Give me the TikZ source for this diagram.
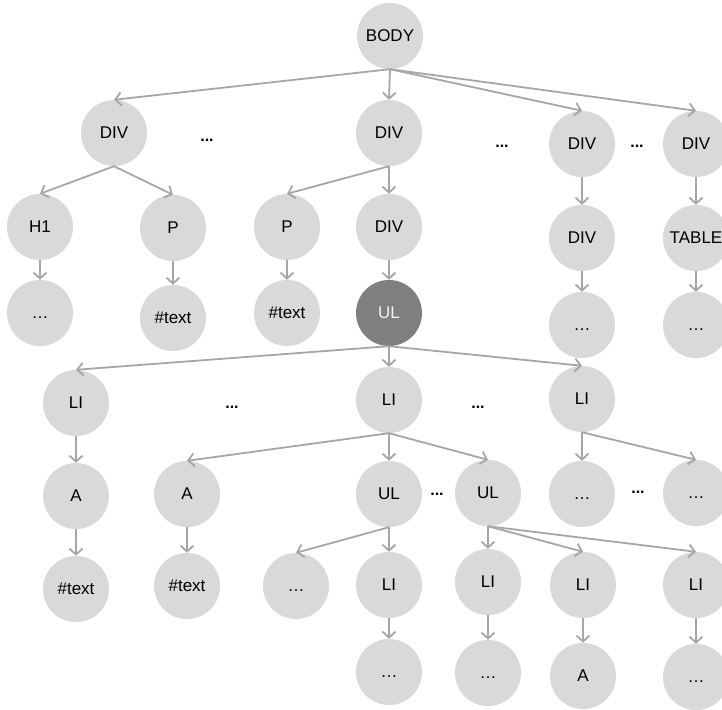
\documentclass[tikz,border=0pt]{standalone}
\usepackage{fontspec}
\setmainfont{Liberation Sans}
\usetikzlibrary{arrows.meta}
\definecolor{nodefill}{RGB}{217,217,217}
\definecolor{darkfill}{RGB}{127,127,127}
\definecolor{edgegray}{RGB}{166,166,166}
\newcommand{\elide}{\vphantom{A}…}
\begin{document}
\begin{tikzpicture}[x=1pt,y=-1pt,
  tag/.style={circle,fill=nodefill,draw=none,minimum size=66pt,inner sep=0pt,
    font=\fontsize{17}{20}\selectfont,text=black},
  current/.style={tag,fill=darkfill,text=white!95!black},
  gap/.style={inner sep=0pt,font=\fontsize{16}{19}\selectfont\bfseries},
  link/.style={draw=edgegray,line width=1.8pt,-{Straight Barb[length=6pt,width=13pt,line width=1.8pt]}}]
\useasboundingbox (0,0) rectangle (722,709);
% level 0
\node[tag] (body) at (390,36) {BODY};
% level 1
\node[tag] (d1) at (114,133) {DIV};
\node[gap] (g1) at (207,140) {...};
\node[tag] (d2) at (389,133) {DIV};
\node[gap] (g2) at (502,146) {...};
\node[tag] (d3) at (582,144) {DIV};
\node[gap] (g3) at (637,146) {...};
\node[tag] (d4) at (696,144) {DIV};
% level 2
\node[tag] (h1) at (40,227) {H1};
\node[tag] (p1) at (173,228) {P};
\node[tag] (p2) at (287,227) {P};
\node[tag] (dv2) at (389,227) {DIV};
\node[tag] (dv3) at (582,238) {DIV};
\node[tag] (tab) at (696,238) {TABLE};
% level 3
\node[tag] (e1) at (40,313) {\elide};
\node[tag] (t1) at (173,318) {\#text};
\node[tag] (t2) at (287,313) {\#text};
\node[current] (ul) at (389,313) {UL};
\node[tag] (e3) at (582,325) {\elide};
\node[tag] (e4) at (696,325) {\elide};
% level 4
\node[tag] (li1) at (76,403) {LI};
\node[gap] (g4) at (232,407) {...};
\node[tag] (li2) at (389,400) {LI};
\node[gap] (g5) at (478,407) {...};
\node[tag] (li3) at (582,399) {LI};
% level 5
\node[tag] (a1) at (76,496) {A};
\node[tag] (a2) at (187,494) {A};
\node[tag] (ul2) at (389,494) {UL};
\node[gap] (g6) at (437,494) {...};
\node[tag] (ul3) at (488,493) {UL};
\node[tag] (e5) at (582,494) {\elide};
\node[gap] (g7) at (638,492) {...};
\node[tag] (e6) at (696,493) {\elide};
% level 6
\node[tag] (t3) at (76,589) {\#text};
\node[tag] (t4) at (187,586) {\#text};
\node[tag] (e7) at (296,586) {\elide};
\node[tag] (li4) at (389,585) {LI};
\node[tag] (li5) at (488,582) {LI};
\node[tag] (li6) at (583,585) {LI};
\node[tag] (li7) at (696,585) {LI};
% level 7
\node[tag] (e8) at (389,672) {\elide};
\node[tag] (e9) at (488,673) {\elide};
\node[tag] (a3) at (583,676) {A};
\node[tag] (e10) at (696,677) {\elide};
% edges
\foreach \p/\c in {body/d1,body/d2,body/d3,body/d4,
  d1/h1,d1/p1,h1/e1,p1/t1,
  d2/p2,d2/dv2,p2/t2,dv2/ul,
  d3/dv3,dv3/e3,d4/tab,tab/e4,
  ul/li1,ul/li2,ul/li3,
  li1/a1,a1/t3,
  li2/a2,li2/ul2,li2/ul3,a2/t4,
  li3/e5,li3/e6,
  ul2/e7,ul2/li4,li4/e8,
  ul3/li5,ul3/li6,ul3/li7,
  li5/e9,li6/a3,li7/e10}
  \draw[link] (\p.south) -- (\c.north);
\end{tikzpicture}
\end{document}
